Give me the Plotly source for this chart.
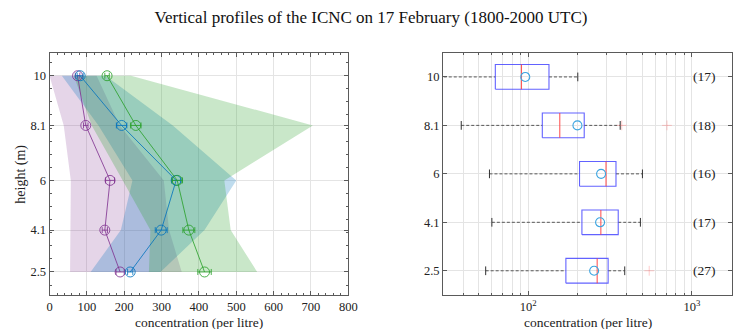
import numpy as np
import plotly.graph_objects as go

# ---------------- data ----------------
heights = [2.5, 4.1, 6, 8.1, 10]
height_labels = ["2.5", "4.1", "6", "8.1", "10"]

purple_mean = [189, 148, 162, 97, 75]
purple_err = [11, 7, 12, 6, 6]
purple_min = [55, 55, 57, 38, 0]
purple_max = [354, 320, 306, 188, 126]

blue_mean = [216, 299, 339, 193, 82]
blue_err = [7, 16, 12, 14, 8]
blue_min = [110, 191, 222, 131, 33]
blue_max = [297, 415, 500, 330, 150]

green_mean = [415, 373, 342, 231, 154]
green_err = [18, 16, 14, 14, 6]
green_min = [266, 270, 196, 113, 65]
green_max = [556, 485, 468, 705, 218]

box_q1 = [170, 213, 206, 122, 63]
box_median = [264, 278, 299, 156, 91]
box_q3 = [308, 355, 344, 220, 134]
box_mean = [253, 275, 279, 200, 96]
whisker_lo = [55, 60, 58, 39, 20]
whisker_hi = [389, 485, 499, 365, 201]
outlier_pos = [1, 4, 4]
outlier_val = [549, 373, 705]
counts = [27, 17, 16, 18, 17]

FONT = "Liberation Serif"
PURPLE = (126, 47, 142)
BLUE = (0, 114, 189)
GREEN = (40, 160, 40)
TXT = "#222"
W, H = 742, 329


def rgb(c, a=1.0):
    return f"rgba({c[0]},{c[1]},{c[2]},{a})"


fig = go.Figure()

# ---------------- left panel: fills ----------------
for lo, hi, col, a in [(purple_min, purple_max, PURPLE, 0.2),
                       (blue_min, blue_max, BLUE, 0.25),
                       (green_min, green_max, GREEN, 0.25)]:
    fig.add_trace(go.Scatter(
        x=list(lo) + list(hi)[::-1],
        y=list(heights) + list(heights)[::-1],
        fill="toself", fillcolor=rgb(col, a), line=dict(width=0),
        mode="lines", hoverinfo="skip", showlegend=False,
        xaxis="x", yaxis="y"))

# ---------------- left panel: lines ----------------
for m, e, col in [(purple_mean, purple_err, PURPLE),
                  (blue_mean, blue_err, BLUE),
                  (green_mean, green_err, GREEN)]:
    fig.add_trace(go.Scatter(
        x=m, y=heights, mode="lines+markers",
        line=dict(color=rgb(col, 0.9), width=0.9),
        marker=dict(symbol="circle-open", size=10, color=rgb(col, 0.9),
                    line=dict(width=0.9, color=rgb(col, 0.9))),
        error_x=dict(type="data", array=e, color=rgb(col, 0.9), thickness=0.9, width=3),
        showlegend=False, xaxis="x", yaxis="y"))

# ---------------- right panel: box plot ----------------
pos = list(range(1, len(heights) + 1))
hh = 0.255
cap = 0.09

# whiskers (dashed)
wx, wy = [], []
for p, lo, q1, q3, hi in zip(pos, whisker_lo, box_q1, box_q3, whisker_hi):
    wx += [lo, q1, None, q3, hi, None]
    wy += [p, p, None, p, p, None]
fig.add_trace(go.Scatter(x=wx, y=wy, mode="lines",
                         line=dict(color="rgb(50,50,50)", width=0.8, dash="3px,2px"),
                         showlegend=False, xaxis="x2", yaxis="y2"))
# caps
cx, cy = [], []
for p, lo, hi in zip(pos, whisker_lo, whisker_hi):
    cx += [lo, lo, None, hi, hi, None]
    cy += [p - cap, p + cap, None, p - cap, p + cap, None]
fig.add_trace(go.Scatter(x=cx, y=cy, mode="lines",
                         line=dict(color="rgb(50,50,50)", width=1),
                         showlegend=False, xaxis="x2", yaxis="y2"))
# boxes
bx, by = [], []
for p, q1, q3 in zip(pos, box_q1, box_q3):
    bx += [q1, q3, q3, q1, q1, None]
    by += [p - hh, p - hh, p + hh, p + hh, p - hh, None]
fig.add_trace(go.Scatter(x=bx, y=by, mode="lines",
                         line=dict(color="rgba(70,70,255,0.85)", width=1.1),
                         showlegend=False, xaxis="x2", yaxis="y2"))
# medians
mx, my = [], []
for p, md in zip(pos, box_median):
    mx += [md, md, None]
    my += [p - hh, p + hh, None]
fig.add_trace(go.Scatter(x=mx, y=my, mode="lines",
                         line=dict(color="rgba(255,60,60,0.85)", width=1.1),
                         showlegend=False, xaxis="x2", yaxis="y2"))
# outliers
fig.add_trace(go.Scatter(x=outlier_val, y=outlier_pos, mode="markers",
                         marker=dict(symbol="cross-thin-open", size=7,
                                     color="rgba(255,110,110,0.35)",
                                     line=dict(width=1, color="rgba(255,110,110,0.35)")),
                         showlegend=False, xaxis="x2", yaxis="y2"))
# means
fig.add_trace(go.Scatter(x=box_mean, y=pos, mode="markers",
                         marker=dict(symbol="circle-open", size=9,
                                     color="rgb(60,165,225)",
                                     line=dict(width=1.1, color="rgb(60,165,225)")),
                         showlegend=False, xaxis="x2", yaxis="y2"))

# counts
for p, n in zip(pos, counts):
    fig.add_annotation(x=np.log10(1190), y=p, xref="x2", yref="y2",
                       text=f"({n})", showarrow=False,
                       font=dict(family=FONT, size=13.5, color=TXT))

# axis titles
LX = [47.3, 351]
RX = [447.3, 741]
for xs in (LX, RX):
    fig.add_annotation(x=(xs[0] + xs[1]) / 2 / W, y=(H - 322.5) / H,
                       xref="paper", yref="paper", text="concentration (per litre)",
                       showarrow=False, xanchor="center", yanchor="middle",
                       font=dict(family=FONT, size=13.5, color=TXT))
fig.add_annotation(x=18 / W, y=(H - 174) / H, xref="paper", yref="paper",
                   text="height (m)", textangle=-90, showarrow=False,
                   xanchor="center", yanchor="middle",
                   font=dict(family=FONT, size=14, color=TXT))

frame = "rgb(90,90,90)"
grid = "rgb(228,228,228)"
axis_common = dict(showline=True, linecolor=frame, linewidth=1, mirror="ticks",
                   ticks="inside", tickcolor=frame, ticklen=4,
                   gridcolor=grid, gridwidth=1, zeroline=False,
                   tickfont=dict(family=FONT, size=12.5, color=TXT))

fig.update_layout(
    width=W, height=H, margin=dict(l=0, r=0, t=0, b=0),
    plot_bgcolor="white", paper_bgcolor="white",
    title=dict(text="Vertical profiles of the ICNC on 17 February (1800-2000 UTC)",
               x=0.5, xanchor="center", y=1 - 17 / H, yanchor="middle",
               font=dict(family=FONT, size=17, color="#111")),
    xaxis=dict(domain=[LX[0] / W, LX[1] / W], range=[0, 800], dtick=100,
               minor=dict(dtick=20, tick0=0, ticks="inside", ticklen=2,
                          tickcolor=frame, showgrid=False),
               anchor="y", **axis_common),
    yaxis=dict(domain=[(H - 295) / H, (H - 52.7) / H], range=[1.62, 10.88],
               tickmode="array", tickvals=heights, ticktext=height_labels,
               minor=dict(dtick=0.5, tick0=0, ticks="inside", ticklen=2,
                          tickcolor=frame, showgrid=False),
               anchor="x", **axis_common),
    xaxis2=dict(domain=[RX[0] / W, RX[1] / W], type="log",
                range=[np.log10(30.2), np.log10(1760)],
                tickmode="array", tickvals=[100, 1000],
                ticktext=["10<sup>2</sup>", "10<sup>3</sup>"],
                minor=dict(tickmode="array",
                           tickvals=[40, 50, 60, 70, 80, 90, 200, 300, 400,
                                     500, 600, 700, 800, 900],
                           ticks="inside", ticklen=2, tickcolor=frame,
                           showgrid=True, gridcolor=grid),
                anchor="y2", **axis_common),
    yaxis2=dict(domain=[(H - 295) / H, (H - 52.7) / H], range=[0.5, 5.5],
                tickmode="array", tickvals=pos, ticktext=height_labels,
                anchor="x2", **axis_common),
)

fig.write_html("out.html")
